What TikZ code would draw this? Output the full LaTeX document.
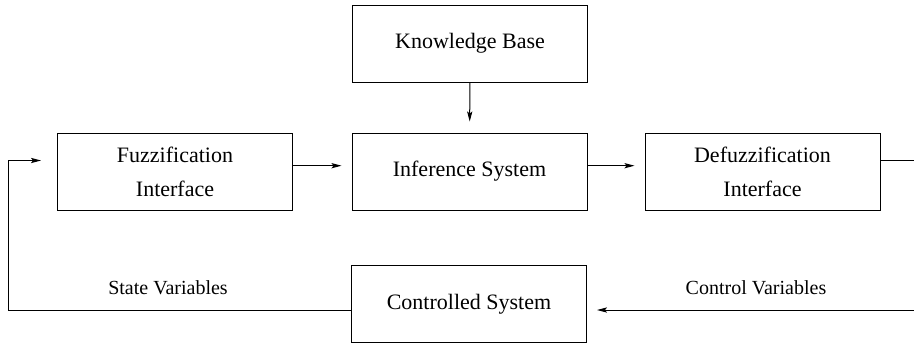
\documentclass[tikz,border=0pt]{standalone}
\usepackage{fontspec}
\setmainfont{Liberation Serif}
\usetikzlibrary{arrows.meta}
\tikzset{
  block/.style={draw, line width=0.5pt, minimum width=117.5pt, minimum height=38.5pt,
    align=center, inner sep=0pt, font=\fontsize{11}{17}\selectfont},
  flow/.style={line width=0.5pt, -{Stealth[length=5pt,width=2.6pt,inset=1pt]}, shorten >=5pt},
  wire/.style={line width=0.5pt},
  lbl/.style={font=\fontsize{10}{12}\selectfont, inner sep=0pt}
}

\begin{document}
\begin{tikzpicture}[x=0.5pt, y=-0.5pt]
        \useasboundingbox (0, 0) rectangle (914, 343);
        \node [block] (kb) at (470, 43.5) {Knowledge Base};
        \node [block] (inf) at (469.5, 171.5) {Inference System};
        \node [block] (fuzz) at (175, 171.5) {Fuzzification\\Interface};
        \node [block] (defuzz) at (762.5, 171.5) {Defuzzification\\Interface};
        \node [block] (plant) at (469, 304) {Controlled System};
        \coordinate (sv) at (8, 310);
        \coordinate (fin) at (8, 160.5);
        \coordinate (rt) at (914, 160);
        \coordinate (rb) at (914, 310);
        \node [lbl] (svl) at (168, 288) {State Variables};
        \node [lbl] (cvl) at (756, 288) {Control Variables};
        \draw [flow, shorten >=5.5pt] (kb) -- (inf);
        \draw [flow] ([yshift=2.9pt]fuzz.east) -- ([yshift=2.9pt]inf.west);
        \draw [flow] ([yshift=2.9pt]inf.east) -- ([yshift=2.9pt]defuzz.west);
        \draw [wire] (defuzz.east |- rt) -- (rt);
        \draw [flow] (rb) -- (plant.east |- rb);
        \draw [flow, shorten >=8pt] (plant.west |- sv) -- (sv) -- (fin) -- (fuzz.west |- fin);
    \end{tikzpicture}
\end{document}
